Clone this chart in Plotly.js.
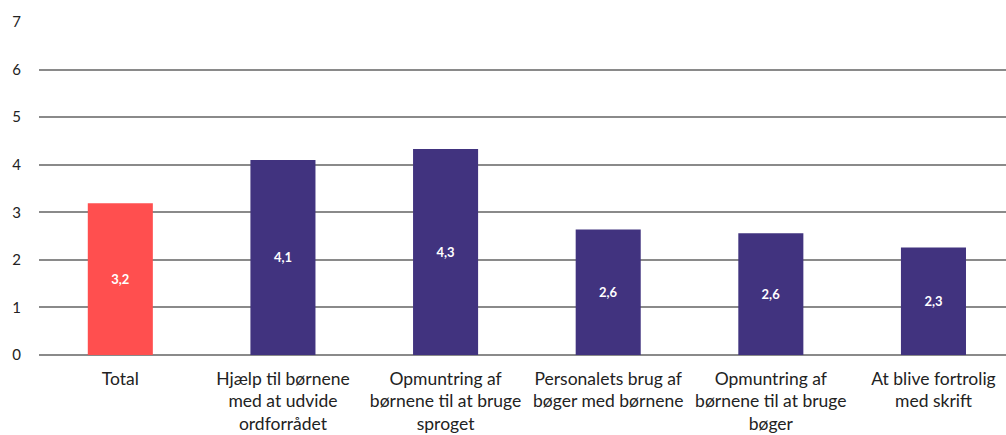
<!DOCTYPE html>
<html>
<head>
<meta charset="utf-8">
<script src="https://cdn.plot.ly/plotly-3.0.1.min.js"></script>
<style>html,body{margin:0;padding:0;background:#fff;}#chart{width:1006px;height:435px;}</style>
</head>
<body>
<div id="chart"></div>
<script>
const categories = [
  "Total",
  "Hjælp til børnene<br>med at udvide<br>ordforrådet",
  "Opmuntring af<br>børnene til at bruge<br>sproget",
  "Personalets brug af<br>bøger med børnene",
  "Opmuntring af<br>børnene til at bruge<br>bøger",
  "At blive fortrolig<br>med skrift"
];
const values = [3.19, 4.10, 4.33, 2.64, 2.56, 2.26];
const barColors = ["#FF4F4F", "#41337F", "#41337F", "#41337F", "#41337F", "#41337F"];
const yTicks = [0, 1, 2, 3, 4, 5, 6, 7];

const trace = {
  type: "bar",
  x: categories,
  y: values,
  width: 0.4,
  marker: {color: barColors},
  texttemplate: "%{y:.1f}",
  textposition: "inside",
  insidetextanchor: "middle",
  textangle: 0,
  textfont: {family: "Lato, sans-serif", size: 13, color: "#ffffff", weight: "bold"},
  hoverinfo: "none"
};

const layout = {
  width: 1006,
  height: 435,
  margin: {l: 39, r: 0, t: 22, b: 80, pad: 0},
  paper_bgcolor: "#ffffff",
  plot_bgcolor: "#ffffff",
  separators: ", ",
  showlegend: false,
  font: {family: "Lato, sans-serif", color: "#222"},
  xaxis: {
    type: "category",
    range: [-0.5, 5.446],
    showgrid: false,
    zeroline: false,
    showline: false,
    ticks: "",
    ticklabelstandoff: 11,
    tickfont: {size: 17.5, color: "#222"},
    automargin: false
  },
  yaxis: {
    range: [0, 7],
    tickvals: yTicks,
    ticktext: yTicks.map(String),
    showgrid: true,
    gridcolor: "#8a8a8a",
    gridwidth: 2,
    zeroline: true,
    zerolinecolor: "#8a8a8a",
    zerolinewidth: 2,
    ticks: "",
    ticklabelstandoff: 17,
    tickfont: {size: 15, color: "#222"},
    automargin: false
  }
};

Plotly.newPlot("chart", [trace], layout, {displayModeBar: false, staticPlot: true});
</script>
</body>
</html>
